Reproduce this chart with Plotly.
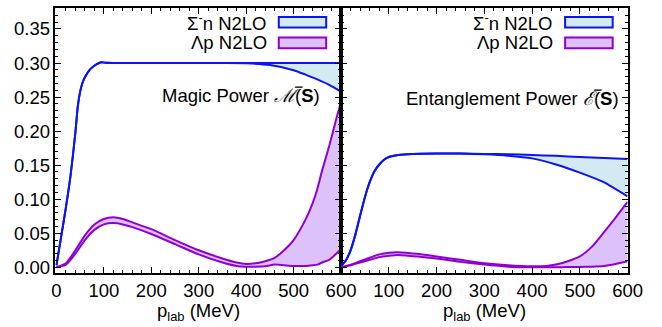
import plotly.graph_objects as go

# ---------------- data ----------------
# Magic power, Sigma- n band
mag_sn_x = [0, 10, 20, 30, 40, 45, 50, 55, 60, 70, 80, 90, 95, 105, 120, 200, 300, 350, 400, 450, 500, 525, 550, 575, 600]
mag_sn_hi = [0.003, 0.045, 0.088, 0.136, 0.198, 0.236, 0.258, 0.271, 0.279, 0.290, 0.296, 0.300, 0.301, 0.3003, 0.300,
             0.300, 0.300, 0.300, 0.300, 0.300, 0.300, 0.300, 0.300, 0.300, 0.300]
mag_sn_lo = [0.003, 0.045, 0.088, 0.136, 0.198, 0.236, 0.258, 0.271, 0.279, 0.290, 0.296, 0.300, 0.301, 0.3003, 0.300,
             0.300, 0.300, 0.2999, 0.2996, 0.2970, 0.2895, 0.283, 0.276, 0.268, 0.258]

# Magic power, Lambda p band
mag_lp_x = [0, 20, 40, 60, 80, 100, 120, 140, 160, 200, 250, 300, 350, 380, 400, 420, 440, 460, 480, 500, 525, 540, 550,
            560, 575, 590, 600]
mag_lp_hi = [0, 0.006, 0.025, 0.047, 0.063, 0.071, 0.0735, 0.071, 0.066, 0.056, 0.040, 0.025, 0.013, 0.007, 0.005,
             0.006, 0.009, 0.014, 0.025, 0.040, 0.070, 0.094, 0.115, 0.142, 0.178, 0.218, 0.243]
mag_lp_lo = [0, 0.004, 0.020, 0.040, 0.055, 0.063, 0.065, 0.063, 0.059, 0.049, 0.034, 0.019, 0.007, 0.002, 0.001,
             0.001, 0.0015, 0.004, 0.003, 0.002, 0.002, 0.003, 0.004, 0.007, 0.011, 0.020, 0.027]

# Entanglement power, Sigma- n band
ent_sn_x = [0, 10, 20, 30, 40, 50, 60, 70, 80, 90, 100, 120, 150, 200, 250, 300, 350, 400, 450, 500, 550, 600]
ent_sn_hi = [0.002, 0.010, 0.025, 0.048, 0.076, 0.103, 0.125, 0.141, 0.151, 0.158, 0.162, 0.165, 0.1665, 0.167, 0.167,
             0.1665, 0.166, 0.165, 0.1637, 0.162, 0.1605, 0.159]
ent_sn_lo = [0.002, 0.010, 0.025, 0.048, 0.076, 0.103, 0.125, 0.141, 0.151, 0.158, 0.162, 0.165, 0.1665, 0.167, 0.167,
             0.166, 0.164, 0.160, 0.151, 0.139, 0.125, 0.104]

# Entanglement power, Lambda p band
ent_lp_x = [0, 20, 40, 60, 80, 100, 120, 140, 160, 200, 250, 300, 350, 400, 430, 450, 475, 500, 525, 550, 575, 600]
ent_lp_hi = [0, 0.004, 0.009, 0.014, 0.019, 0.0215, 0.022, 0.021, 0.020, 0.016, 0.011, 0.006, 0.003, 0.0015, 0.002,
             0.004, 0.009, 0.016, 0.030, 0.051, 0.073, 0.096]
ent_lp_lo = [0, 0.003, 0.007, 0.011, 0.015, 0.017, 0.018, 0.017, 0.016, 0.013, 0.008, 0.004, 0.001, 0, 0, 0, 0.0003,
             0.0005, 0.001, 0.002, 0.005, 0.009]

x_ticks = [0, 100, 200, 300, 400, 500, 600]
x_ticks_right = [100, 200, 300, 400, 500, 600]
y_ticks = [0.00, 0.05, 0.10, 0.15, 0.20, 0.25, 0.30, 0.35]

legend_labels = ["Σ<sup>-</sup>n N2LO", "Λp N2LO"]
panel_titles = ["Magic Power <i>ℳ\u0305</i>(<b>S</b>)", "Entanglement Power <i>ℰ\u0305</i>(<b>S</b>)"]

# ---------------- style ----------------
BLUE = "rgb(10,20,245)"
BLUE_FILL = "rgb(212,234,242)"
PURP = "rgb(145,0,210)"
PURP_FILL = "rgb(221,193,250)"
FONT = "Liberation Sans, Arial, sans-serif"

fig = go.Figure()


def add_band(x, lo, hi, color, fill, xa, ya):
    fig.add_trace(go.Scatter(x=x, y=lo, mode="lines", line=dict(color=color, width=2, shape="spline", smoothing=0.6),
                             xaxis=xa, yaxis=ya, showlegend=False, hoverinfo="skip"))
    fig.add_trace(go.Scatter(x=x, y=hi, mode="lines", line=dict(color=color, width=2, shape="spline", smoothing=0.6),
                             fill="tonexty", fillcolor=fill, xaxis=xa, yaxis=ya, showlegend=False, hoverinfo="skip"))


add_band(mag_sn_x, mag_sn_lo, mag_sn_hi, BLUE, BLUE_FILL, "x", "y")
add_band(mag_lp_x, mag_lp_lo, mag_lp_hi, PURP, PURP_FILL, "x", "y")
add_band(ent_sn_x, ent_sn_lo, ent_sn_hi, BLUE, BLUE_FILL, "x2", "y2")
add_band(ent_lp_x, ent_lp_lo, ent_lp_hi, PURP, PURP_FILL, "x2", "y2")

W, H = 662, 327
L1, R1, R2 = 53, 347, 642
TOP, BOT = 8, 277
yd = [1 - BOT / H, 1 - TOP / H]

axis_common = dict(showline=True, linecolor="black", linewidth=1.5, mirror="ticks", ticks="inside", ticklen=6,
                   tickwidth=1.2, tickcolor="black", showgrid=False, zeroline=False,
                   tickfont=dict(family=FONT, size=18.5, color="black"),
                   minor=dict(ticks="inside", ticklen=3, tickwidth=1, tickcolor="black"))

yrange = [-0.008, 0.381]

fig.update_layout(
    width=W, height=H, margin=dict(l=0, r=0, t=0, b=0), plot_bgcolor="white", paper_bgcolor="white",
    showlegend=False,
    xaxis=dict(domain=[L1 / W, R1 / W], range=[-2, 600], tickvals=x_ticks, anchor="y", **axis_common),
    yaxis=dict(domain=yd, range=yrange, tickvals=y_ticks, tickformat=".2f", anchor="x", **axis_common),
    xaxis2=dict(domain=[R1 / W, R2 / W], range=[0, 600], tickvals=x_ticks_right, anchor="y2", **axis_common),
    yaxis2=dict(domain=yd, range=yrange, tickvals=y_ticks, showticklabels=False, anchor="x2", **axis_common),
)
fig.update_xaxes(minor_dtick=20, minor_tick0=0)
fig.update_yaxes(minor_dtick=0.01, minor_tick0=0)

# x axis titles
for xr in ["x domain", "x2 domain"]:
    fig.add_annotation(text="p<sub>lab</sub> (MeV)", xref=xr, x=0.5, yref="paper", y=1 - 317 / H,
                       showarrow=False, font=dict(family=FONT, size=18.5, color="black"),
                       xanchor="center", yanchor="middle")

# legends and panel titles
title_pos = [(0.932, 0.669), (0.976, 0.658)]
for i, xa in enumerate(["x", "x2"]):
    xr = xa + " domain"
    yr = ("y" if xa == "x" else "y2") + " domain"
    for j, (lab, col, fc) in enumerate(zip(legend_labels, [BLUE, PURP], [BLUE_FILL, PURP_FILL])):
        yc = [0.946, 0.868][j]
        fig.add_annotation(text=lab, xref=xr, yref=yr, x=0.748, y=yc, showarrow=False, xanchor="right",
                           yanchor="middle", font=dict(family=FONT, size=18.5, color="black"))
        fig.add_shape(type="rect", xref=xr, yref=yr, x0=0.782, x1=0.948, y0=yc - 0.02, y1=yc + 0.02,
                      line=dict(color=col, width=2), fillcolor=fc)
    tx, ty = title_pos[i]
    fig.add_annotation(text=panel_titles[i], xref=xr, yref=yr, x=tx, y=ty, showarrow=False, xanchor="right",
                       yanchor="middle", font=dict(family=FONT, size=18.5, color="black"))

fig.write_html("out.html", config={"displayModeBar": False},
               post_script="document.body.style.margin='0px';document.body.style.overflow='hidden';")
